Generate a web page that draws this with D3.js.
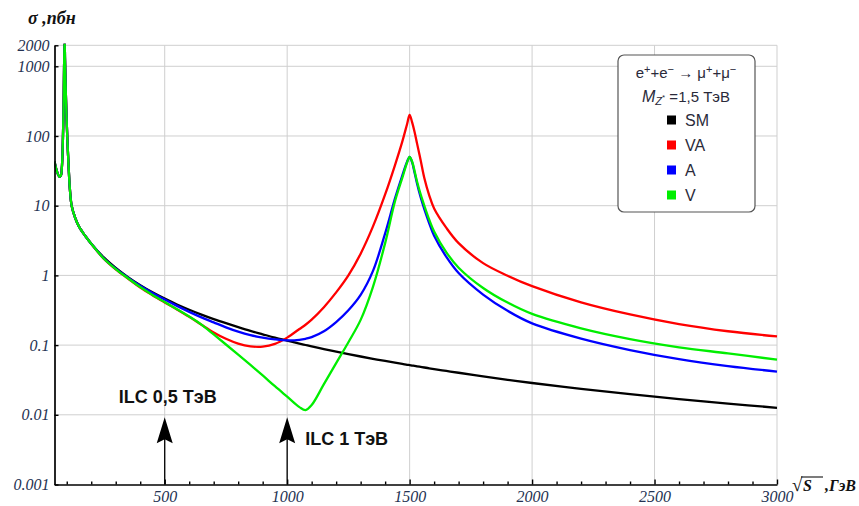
<!DOCTYPE html>
<html>
<head>
<meta charset="utf-8">
<script src="https://cdn.jsdelivr.net/npm/d3@7"></script>
<style>
  body { margin: 0; background: #fff; }
  svg { display: block; }
  .tick text { font-family: "Liberation Serif", serif; font-style: italic; font-size: 16px; fill: #243252; }
  .legend-text { font-family: "Liberation Sans", Arial, sans-serif; fill: #2a2a3a; }
  .ilc-label { font-family: "Liberation Sans", Arial, sans-serif; font-weight: bold; font-size: 18px; fill: #111; }
  .axis-title { font-family: "Liberation Serif", serif; font-weight: bold; font-style: italic; fill: #111; }
</style>
</head>
<body>
<svg id="chart" width="859" height="506"></svg>
<script>
// sqrt(s), GeV
const energies = [50, 60, 70, 76, 80, 84, 87, 89, 91.2, 93, 95, 98, 102, 107, 113, 120, 135, 150, 175, 200,
  250, 300, 350, 400, 450, 500, 550, 600, 650, 700,
  750, 800, 850, 900, 950, 1000,
  1050, 1075, 1100, 1150, 1200, 1250, 1300, 1350, 1400, 1440,
  1470, 1490, 1500, 1510, 1520, 1530, 1545, 1560, 1580, 1600,
  1650, 1700, 1800, 1900, 2000, 2200, 2400, 2600, 2800, 3000];

// Z-pole region, common to all four curves (50 ... 200 GeV)
const zPoleValues = [43, 31, 26, 27, 35, 80, 250, 900, 2600, 1200, 600, 250, 100, 40, 17, 10, 6.6, 5.0, 3.7, 2.85];

// cross sections, pb (250 ... 3000 GeV)
const smValues = [1.83, 1.28, 0.945, 0.724, 0.572, 0.464, 0.383, 0.322, 0.274, 0.236,
  0.206, 0.181, 0.16, 0.143, 0.128, 0.116,
  0.1052, 0.1003, 0.0958, 0.0877, 0.0806, 0.0742, 0.0686, 0.0636, 0.0592, 0.0559,
  0.0537, 0.0522, 0.0516, 0.0509, 0.0503, 0.0496, 0.0486, 0.0477, 0.0465, 0.0453,
  0.0426, 0.0401, 0.0355, 0.0318, 0.0286, 0.0236, 0.0198, 0.0168, 0.0145, 0.0126];
const vaValues = [1.75, 1.22, 0.9, 0.67, 0.52, 0.41, 0.325, 0.255, 0.196, 0.152,
  0.123, 0.105, 0.096, 0.095, 0.104, 0.128,
  0.17, 0.196, 0.232, 0.35, 0.57, 1.0, 2.05, 5.0, 14.5, 38,
  83, 150, 200, 158, 115, 79, 45, 25, 14.1, 9.1,
  4.8, 2.9, 1.5, 0.99, 0.7, 0.41, 0.275, 0.2, 0.158, 0.133];
const aValues = [1.78, 1.25, 0.93, 0.71, 0.56, 0.45, 0.365, 0.3, 0.25, 0.212,
  0.18, 0.156, 0.139, 0.128, 0.121, 0.117,
  0.119, 0.123, 0.13, 0.158, 0.214, 0.316, 0.525, 1.15, 4.0, 12.6,
  27, 43, 50, 42, 30, 21, 13.2, 8.9, 5.6, 3.7,
  1.84, 1.08, 0.53, 0.31, 0.205, 0.124, 0.085, 0.063, 0.05, 0.0417];
const vValues = [1.76, 1.23, 0.91, 0.68, 0.525, 0.415, 0.328, 0.257, 0.197, 0.142,
  0.102, 0.073, 0.052, 0.0367, 0.0257, 0.0182,
  0.0129, 0.0117, 0.0138, 0.0275, 0.055, 0.11, 0.23, 0.68, 2.9, 11.5,
  25, 42, 50, 43, 31.6, 22.4, 14.5, 10, 6.3, 4.27,
  2.14, 1.29, 0.66, 0.407, 0.28, 0.174, 0.122, 0.093, 0.076, 0.0617];

const seriesNames = ['SM', 'VA', 'A', 'V'];
const seriesColors = ['#000000', '#ff0000', '#0000ff', '#00ee00'];
const seriesValues = [smValues, vaValues, aValues, vValues];

const xTicks = [500, 1000, 1500, 2000, 2500, 3000];
const xMinorTicks = d3.range(100, 3001, 100);
const yTicks = [0.001, 0.01, 0.1, 1, 10, 100, 1000, 2000];
const yTickLabels = ['0.001', '0.01', '0.1', '1', '10', '100', '1000', '2000'];

const arrows = [
  { energy: 500, tip: 0.0092, label: 'ILC 0,5 ТэВ' },
  { energy: 1000, tip: 0.0092, label: 'ILC 1 ТэВ' }
];

const svg = d3.select('#chart');
const x = d3.scaleLinear().domain([50, 3000]).range([54.5, 777]);
const y = d3.scaleLog().domain([0.001, 2000]).range([484.5, 45.3]);

// grid
const grid = svg.append('g').attr('stroke', '#cfcfcf').attr('stroke-width', 1);
grid.selectAll('line.gx').data(xTicks).join('line')
  .attr('x1', d => x(d)).attr('x2', d => x(d))
  .attr('y1', y.range()[0]).attr('y2', y.range()[1]);
grid.selectAll('line.gy').data(yTicks.slice(1)).join('line')
  .attr('x1', x.range()[0]).attr('x2', x.range()[1])
  .attr('y1', d => y(d)).attr('y2', d => y(d));

// curves
svg.append('clipPath').attr('id', 'plot-clip')
  .append('rect')
  .attr('x', x.range()[0]).attr('y', y.range()[1] - 1.5)
  .attr('width', x.range()[1] - x.range()[0] + 2)
  .attr('height', y.range()[0] - y.range()[1] + 1.5);

const line = d3.line()
  .x(d => x(d[0]))
  .y(d => y(d[1]))
  .curve(d3.curveCatmullRom.alpha(0.5));

const curves = svg.append('g').attr('clip-path', 'url(#plot-clip)');
seriesValues.forEach((vals, i) => {
  const pts = energies.map((e, k) => [e, k < zPoleValues.length ? zPoleValues[k] : vals[k - zPoleValues.length]]);
  curves.append('path')
    .datum(pts)
    .attr('fill', 'none')
    .attr('stroke', seriesColors[i])
    .attr('stroke-width', 2.3)
    .attr('stroke-linejoin', 'round')
    .attr('d', line);
});

// axes
const yAxis = d3.axisLeft(y)
  .tickValues(yTicks)
  .tickFormat((d, i) => yTickLabels[i])
  .tickSizeInner(-4).tickSizeOuter(0).tickPadding(5);
const yAxisG = svg.append('g').attr('transform', `translate(${x.range()[0]},0)`).call(yAxis);

const xAxis = d3.axisBottom(x)
  .tickValues(xMinorTicks)
  .tickFormat(d => (d % 500 === 0 ? d : ''))
  .tickSizeInner(-3).tickSizeOuter(0).tickPadding(6);
const xAxisG = svg.append('g').attr('transform', `translate(0,${y.range()[0]})`).call(xAxis);
xAxisG.selectAll('.tick line').filter(d => d % 500 === 0).attr('y2', -5);

[yAxisG, xAxisG].forEach(g => {
  g.select('.domain').attr('stroke', '#000').attr('stroke-width', 1.7);
  g.selectAll('.tick line').attr('stroke', '#000').attr('stroke-width', 1.4);
});

// ILC arrows
const arrowG = svg.append('g');
arrows.forEach((a, i) => {
  const ax = x(a.energy);
  const ty = y(a.tip);
  arrowG.append('line')
    .attr('x1', ax).attr('x2', ax)
    .attr('y1', y(0.001)).attr('y2', ty + 20)
    .attr('stroke', '#000').attr('stroke-width', 1.3);
  arrowG.append('path')
    .attr('d', `M${ax},${ty} L${ax - 8},${ty + 26} L${ax},${ty + 22} L${ax + 8},${ty + 26} Z`)
    .attr('fill', '#000');
  const t = arrowG.append('text').attr('class', 'ilc-label').text(a.label);
  if (i === 0) t.attr('x', ax + 3).attr('y', ty - 14).attr('text-anchor', 'middle');
  else t.attr('x', ax + 18).attr('y', ty + 28);
});

// axis titles
svg.append('text').attr('class', 'axis-title')
  .attr('x', 28).attr('y', 24).style('font-size', '18px')
  .text('σ ,пбн');

const sTitle = svg.append('g').attr('class', 'axis-title').style('font-size', '16px');
sTitle.append('text').attr('x', 792).attr('y', 491)
  .style('font-style', 'normal').style('font-weight', 'normal').style('font-size', '19px').text('√');
sTitle.append('line').attr('x1', 801).attr('x2', 823).attr('y1', 477).attr('y2', 477)
  .attr('stroke', '#111').attr('stroke-width', 1.1);
sTitle.append('text').attr('x', 803).attr('y', 491).text('S');
sTitle.append('text').attr('x', 825).attr('y', 491).text(',ГэВ');

// legend
const legend = svg.append('g').attr('transform', 'translate(618,55)');
legend.append('rect')
  .attr('width', 137).attr('height', 157).attr('rx', 6)
  .attr('fill', '#fff').attr('stroke', '#555').attr('stroke-width', 1.2);

const l1 = legend.append('text').attr('class', 'legend-text')
  .attr('x', 68).attr('y', 23).attr('text-anchor', 'middle').style('font-size', '15px');
[['e', 0], ['+', 1], ['+e', 0], ['−', 1], [' → μ', 0], ['+', 1], ['+μ', 0], ['−', 1]].forEach(([s, sup]) => {
  l1.append('tspan').text(s)
    .style('font-size', sup ? '11px' : '15px')
    .attr('baseline-shift', sup ? '45%' : null);
});

const l2 = legend.append('text').attr('class', 'legend-text')
  .attr('x', 68).attr('y', 47).attr('text-anchor', 'middle').style('font-size', '15px');
l2.append('tspan').text('M').style('font-style', 'italic').style('font-size', '16px');
l2.append('tspan').text('Z').style('font-style', 'italic').style('font-size', '11px').attr('baseline-shift', '-25%');
l2.append('tspan').text('*').style('font-size', '8px').attr('baseline-shift', '30%');
l2.append('tspan').text(' =1,5 ТэВ');

const items = legend.selectAll('g.item').data(seriesNames).join('g')
  .attr('class', 'item')
  .attr('transform', (d, i) => `translate(49,${65 + i * 25})`);
items.append('rect')
  .attr('x', 0).attr('y', -4.5).attr('width', 9).attr('height', 9)
  .attr('fill', (d, i) => seriesColors[i]);
items.append('text').attr('class', 'legend-text')
  .attr('x', 18).attr('y', 5.5).style('font-size', '16px')
  .text(d => d);
</script>
</body>
</html>
